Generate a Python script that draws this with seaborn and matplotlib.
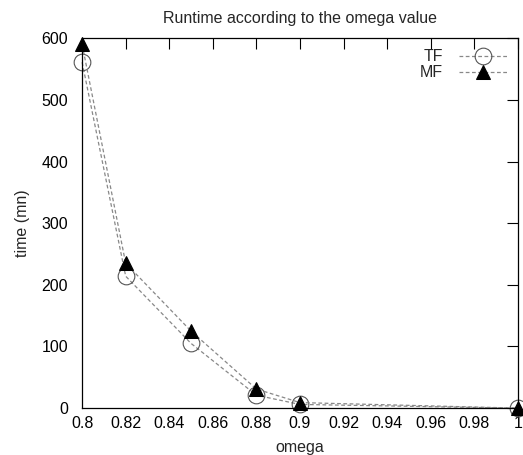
import pandas as pd
import matplotlib
matplotlib.use("Agg")
import matplotlib.pyplot as plt
import seaborn as sns

omega = [0.8, 0.82, 0.85, 0.88, 0.9, 1.0]
tf_time = [561, 214, 105, 21, 6, 0]
mf_time = [590, 235, 125, 31, 9, 0]

df = pd.DataFrame({"omega": omega, "TF": tf_time, "MF": mf_time})

sns.set_style("white")
plt.rcParams['font.family'] = ['Liberation Sans', 'DejaVu Sans']

fig = plt.figure(figsize=(5.23, 4.55), dpi=100)
ax = fig.add_axes([0.157, 0.103, 0.833, 0.813])

sns.lineplot(data=df, x="omega", y="TF", ax=ax, color="#888888", lw=0.9,
             linestyle=(0, (3, 2)), marker="o", markersize=12,
             markerfacecolor="none", markeredgecolor="#555555",
             markeredgewidth=0.8, label="TF", clip_on=False)
sns.lineplot(data=df, x="omega", y="MF", ax=ax, color="#888888", lw=0.9,
             linestyle=(0, (3, 2)), marker="^", markersize=10,
             markerfacecolor="black", markeredgecolor="black",
             label="MF", clip_on=False)

ax.set_xlim(0.8, 1.0)
ax.set_ylim(0, 600)
ax.set_xticks([0.8, 0.82, 0.84, 0.86, 0.88, 0.9, 0.92, 0.94, 0.96, 0.98, 1.0])
ax.set_xticklabels(["0.8", "0.82", "0.84", "0.86", "0.88", "0.9", "0.92",
                    "0.94", "0.96", "0.98", "1"])
ax.set_yticks([0, 100, 200, 300, 400, 500, 600])
ax.tick_params(direction="in", length=8, width=0.8, top=True, right=True,
               labelsize=11.5, colors="black")
ax.tick_params(axis="x", pad=6)
ax.tick_params(axis="y", pad=10)
for s in ax.spines.values():
    s.set_color("black")
    s.set_linewidth(0.9)

ax.set_xlabel("omega", fontsize=11.5, labelpad=6)
ax.set_ylabel("time (mn)", fontsize=11.5, labelpad=8)
ax.set_title("Runtime according to the omega value", fontsize=11.5, pad=11)

ax.legend(loc="upper right", frameon=False, markerfirst=False, fontsize=11.5,
          handlelength=3, borderaxespad=0.3, labelspacing=0.05,
          handletextpad=1.0)

fig.savefig("out.png", dpi=100)
